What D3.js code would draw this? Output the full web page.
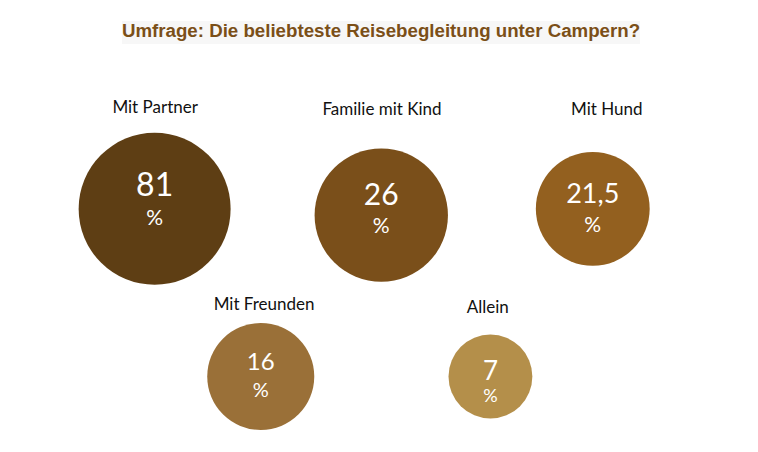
<!DOCTYPE html>
<html>
<head>
<meta charset="utf-8">
<script src="https://cdn.jsdelivr.net/npm/d3@7"></script>
<style>
  html, body { margin: 0; padding: 0; background: #fff; }
  svg { display: block; }
</style>
</head>
<body>
<svg id="chart" width="758" height="452"></svg>
<script>
// ---- data ----
const title = "Umfrage: Die beliebteste Reisebegleitung unter Campern?";
const categories = ["Mit Partner", "Familie mit Kind", "Mit Hund", "Mit Freunden", "Allein"];
const values = [81, 26, 21.5, 16, 7];              // percent
const bubbleSizes = [23, 17.7, 12.9, 11.4, 7];     // bubble size dimension
const xValues = [2.04, 5.03, 7.82, 3.44, 6.47];    // bubble x coordinate
const yValues = [5.38, 5.24, 5.38, 1.67, 1.67];    // bubble y coordinate

// ---- style / layout ----
const W = 758, H = 452;
const colors = ["#5e3e14", "#7a4f1a", "#93601f", "#9a7038", "#b48f4a"];
const numFont = [32, 30, 27, 24, 26];
const pctFont = [21, 21, 21, 20, 18];
const numDy = [-13, -10, -6, -7, 3];
const pctDy = [16, 18, 22.7, 20, 25];
const labelDx = [0.5, 0.7, 14, 3.3, -2.7];
const labelDy = [-96.3, -100, -94, -66.7, -63.3];
const font = "Lato, 'Open Sans', sans-serif";

const svg = d3.select("#chart");
const x = d3.scaleLinear().domain([0, 10]).range([0, W]);
const y = d3.scaleLinear().domain([0, 10]).range([H, 0]);
const r = d3.scaleSqrt().domain([0, 23]).range([0, 76]);
const loc = d3.formatLocale({decimal: ",", thousands: ".", grouping: [3], currency: ["", "€"]});
const fmt = loc.format("~g");

// title
const tg = svg.append("g");
const bgRect = tg.append("rect").attr("fill", "#f7f7f7");
const tt = tg.append("text")
  .attr("x", 381).attr("y", 37)
  .attr("text-anchor", "middle")
  .attr("font-family", "'Liberation Sans', Arial, sans-serif")
  .attr("font-weight", "bold")
  .attr("font-size", 18.7)
  .attr("fill", "#7b4f17")
  .text(title);
const bb = tt.node().getBBox();
bgRect.attr("x", bb.x).attr("y", bb.y + 1).attr("width", bb.width).attr("height", bb.height + 2);

const data = categories.map((c, i) => ({c, v: values[i], s: bubbleSizes[i], xv: xValues[i], yv: yValues[i], i}));

const g = svg.selectAll("g.bubble").data(data).enter().append("g").attr("class", "bubble")
  .attr("transform", d => `translate(${x(d.xv)},${y(d.yv)})`);

g.append("circle")
  .attr("r", d => r(d.s))
  .attr("fill", d => colors[d.i]);

g.append("text")
  .attr("x", d => labelDx[d.i]).attr("y", d => labelDy[d.i])
  .attr("text-anchor", "middle")
  .attr("font-family", font)
  .attr("font-size", 17)
  .attr("fill", "#111")
  .text(d => d.c);

g.append("text")
  .attr("y", d => numDy[d.i])
  .attr("text-anchor", "middle")
  .attr("font-family", font)
  .attr("font-size", d => numFont[d.i])
  .attr("fill", "#fff")
  .text(d => fmt(d.v));

g.append("text")
  .attr("y", d => pctDy[d.i])
  .attr("text-anchor", "middle")
  .attr("font-family", font)
  .attr("font-size", d => pctFont[d.i])
  .attr("fill", "#fff")
  .text("%");
</script>
</body>
</html>
